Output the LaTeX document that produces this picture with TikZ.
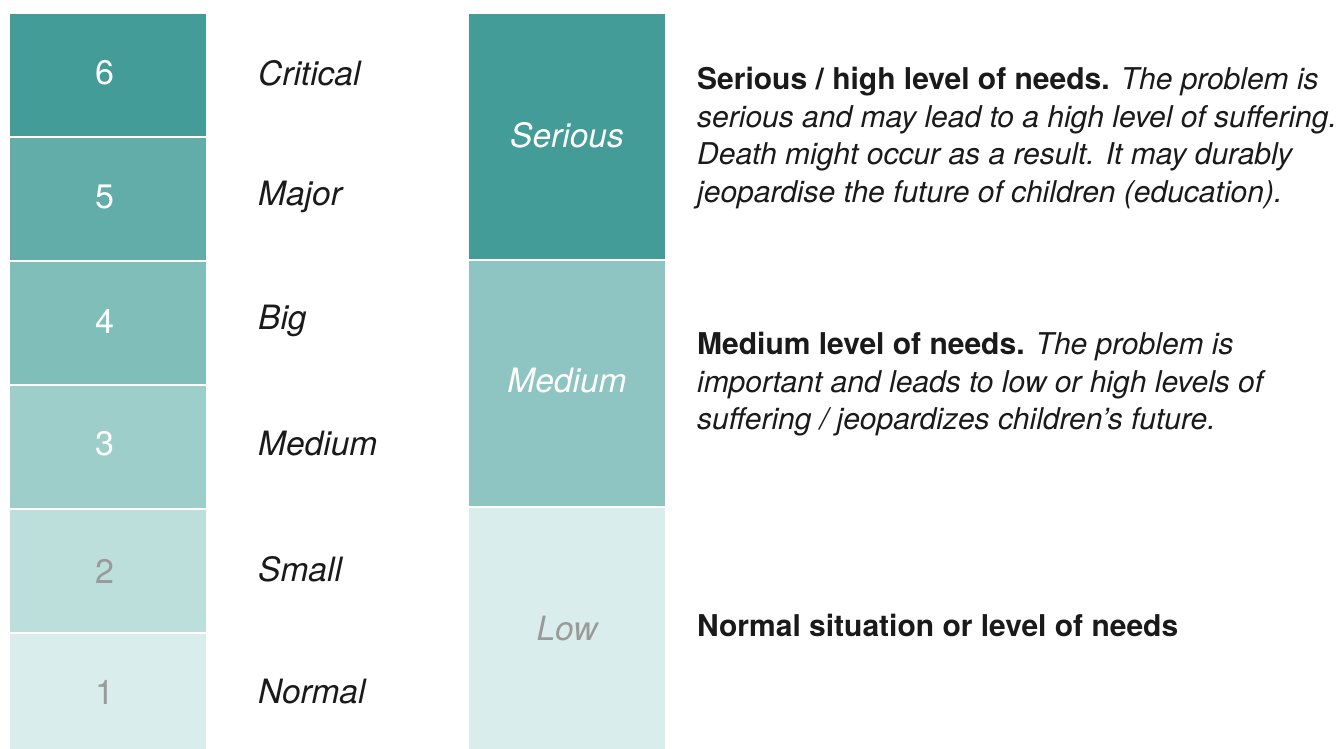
\documentclass[tikz,border=0pt]{standalone}
\usepackage{fontspec}
\setmainfont{TeX Gyre Heros}
\definecolor{cSix}{HTML}{449C98}
\definecolor{cFive}{HTML}{62ADA9}
\definecolor{cFour}{HTML}{80BEBA}
\definecolor{cThree}{HTML}{9DCECA}
\definecolor{cTwo}{HTML}{BCDFDC}
\definecolor{cOne}{HTML}{D9EDEC}
\definecolor{cMed}{HTML}{8EC5C2}
\definecolor{numgray}{HTML}{9A9A9A}
\definecolor{txt}{HTML}{1A1A1A}
\tikzset{
  lvl/.style={fill=#1, draw=none, minimum width=196pt, inner sep=0pt, outer sep=0pt, anchor=north west},
  num/.style={font=\fontsize{34}{36}\selectfont, text=white},
  numg/.style={font=\fontsize{34}{36}\selectfont, text=numgray},
  lab/.style={font=\fontsize{33.5}{36}\selectfont\itshape, text=txt, anchor=west, inner sep=0pt},
  bigl/.style={font=\fontsize{33.5}{36}\selectfont\itshape, text=white},
  desc/.style={font=\fontsize{30}{37.5}\selectfont, text=txt, anchor=north west, inner sep=0pt, align=left}
}
\begin{document}
\begin{tikzpicture}[x=1pt,y=-1pt]
\useasboundingbox (0,0) rectangle (1339,749);
\fill[white] (0,0) rectangle (1339,749);
% left scale
\node[lvl=cSix, minimum height=122pt] (b6) at (10,14) {};
\node[lvl=cFive, minimum height=122pt] (b5) at (10,138) {};
\node[lvl=cFour, minimum height=122pt] (b4) at (10,262) {};
\node[lvl=cThree, minimum height=122pt] (b3) at (10,386) {};
\node[lvl=cTwo, minimum height=122pt] (b2) at (10,510) {};
\node[lvl=cOne, minimum height=115pt] (b1) at (10,634) {};
\node[num] (n6) at (105,73) {6};
\node[num] (n5) at (105,197) {5};
\node[num] (n4) at (105,321) {4};
\node[num] (n3) at (105,444) {3};
\node[numg] (n2) at (105,571) {2};
\node[numg] (n1) at (105,692) {1};
\node[lab] (l6) at (258,73) {Critical};
\node[lab] (l5) at (258,197) {Major};
\node[lab] (l4) at (258,321) {Big};
\node[lab] (l3) at (258,444) {Medium};
\node[lab] (l2) at (258,569) {Small};
\node[lab] (l1) at (258,692) {Normal};
% right scale
\node[lvl=cSix, minimum height=245pt] (s) at (469,14) {};
\node[lvl=cMed, minimum height=245pt] (m) at (469,261) {};
\node[lvl=cOne, minimum height=241pt] (lo) at (469,508) {};
\node[bigl] (ts) at (567,135) {Serious};
\node[bigl] (tm) at (567,381) {Medium};
\node[bigl, text=numgray] (tl) at (567,629) {Low};
% descriptions
\node[desc] (ds) at (697,67) {\textbf{Serious / high level of needs.} \textit{The problem is}\\
\textit{serious and may lead to a high level of suffering.}\\
\textit{Death might occur as a result. It may durably}\\
\textit{jeopardise the future of children (education).}};
\node[desc] (dm) at (697,332) {\textbf{Medium level of needs.} \textit{The problem is}\\
\textit{important and leads to low or high levels of}\\
\textit{suffering / jeopardizes children’s future.}};
\node[desc] (dl) at (697,614) {\textbf{Normal situation or level of needs}};
\end{tikzpicture}
\end{document}
